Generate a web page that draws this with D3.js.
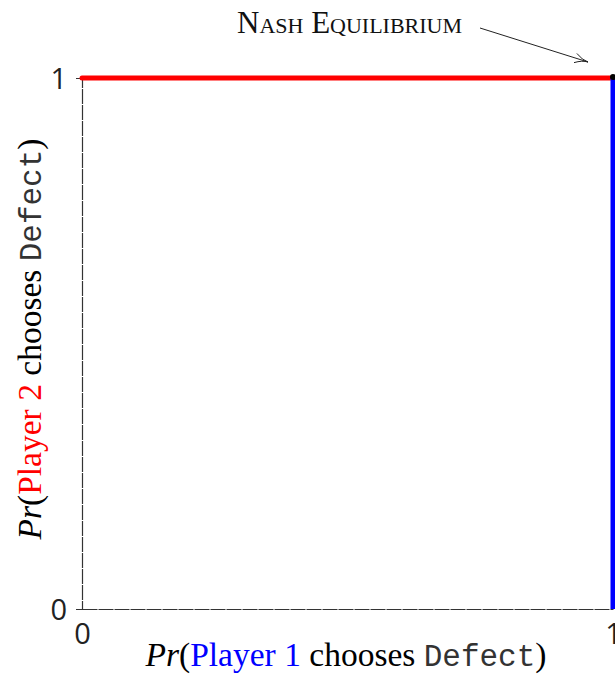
<!DOCTYPE html>
<html><head><meta charset="utf-8">
<script src="https://cdn.jsdelivr.net/npm/d3@7"></script>
<style>body{margin:0;background:#fff}</style>
</head><body>
<svg id="c" width="615" height="675"></svg>
<script>
const xTicks = [0, 1];
const yTicks = [0, 1];
const p2Best = [{x:0,y:1},{x:1,y:1}];   // red: Player 2 best response
const p1Best = [{x:1,y:0},{x:1,y:1}];   // blue: Player 1 best response
const nash = [{x:1,y:1}];
const annotation = "Nash Equilibrium";

const svg = d3.select("#c");
const x = d3.scaleLinear().domain([0,1]).range([82,613]);
const y = d3.scaleLinear().domain([0,1]).range([609,78]);

const serif = "'Liberation Serif', 'DejaVu Serif', serif";
const mono = "'Liberation Mono', 'DejaVu Sans Mono', monospace";
const sans = "'Open Sans', 'DejaVu Sans', sans-serif";

// axes
const gx = svg.append("g").attr("transform",`translate(0,${y(0)})`)
  .call(d3.axisBottom(x).tickValues(xTicks).tickSize(0).tickPadding(14).tickFormat(d3.format("d")));
const gy = svg.append("g").attr("transform",`translate(${x(0)},0)`)
  .call(d3.axisLeft(y).tickValues(yTicks).tickSize(6).tickPadding(9).tickFormat(d3.format("d")));
[gx,gy].forEach(g=>{
  g.select(".domain").attr("stroke","#333").attr("stroke-width",1.2).attr("stroke-dasharray","15,1");
  g.selectAll("text").attr("font-family",sans).attr("font-size",29).attr("fill","#222");
});
gy.selectAll(".tick line").attr("stroke","#333");
gx.selectAll(".tick text").attr("dy","0.72em");
gy.selectAll(".tick text").attr("dy","0.36em");

const line = d3.line().x(d=>x(d.x)).y(d=>y(d.y));
svg.append("path").datum(p2Best).attr("d",line).attr("fill","none")
  .attr("stroke","#ff0000").attr("stroke-width",5).attr("stroke-linecap","round");
svg.append("path").datum(p1Best).attr("d",line).attr("fill","none")
  .attr("stroke","#0000ff").attr("stroke-width",5);
svg.selectAll(".ne").data(nash).enter().append("circle")
  .attr("cx",d=>x(d.x)).attr("cy",d=>y(d.y)-1).attr("r",3).attr("fill","#000");

function label(sel, color, who){
  sel.append("tspan").attr("font-style","italic").text("Pr");
  sel.append("tspan").text("(");
  sel.append("tspan").attr("fill",color).text(who);
  sel.append("tspan").text(" chooses ");
  sel.append("tspan").attr("font-family",mono).attr("font-size",31).attr("fill","#333").text("Defect");
  sel.append("tspan").text(")");
}
// x label
const xl = svg.append("text").attr("x",346).attr("y",666).attr("text-anchor","middle")
  .attr("font-family",serif).attr("font-size",33.5).attr("fill","#000");
label(xl, "#0000ff", "Player 1");

// y label
const yl = svg.append("text").attr("transform","translate(41,339) rotate(-90)").attr("text-anchor","middle")
  .attr("font-family",serif).attr("font-size",33.5).attr("fill","#000");
label(yl, "#ff0000", "Player 2");

// annotation
svg.append("text").attr("x",237).attr("y",33).attr("font-family",serif)
  .attr("font-size",31).attr("font-variant","small-caps").attr("fill","#111").text(annotation);
const ax0 = 480, ay0 = 28;
const ax1 = x(1)-25, ay1 = y(1)-16;
svg.append("line").attr("x1",ax0).attr("y1",ay0).attr("x2",ax1).attr("y2",ay1)
  .attr("stroke","#222").attr("stroke-width",1);
const ang = Math.atan2(ay1-ay0, ax1-ax0);
const hl = 14, ha = 0.35;
svg.append("path").attr("d",`M${ax1-hl*Math.cos(ang-ha)},${ay1-hl*Math.sin(ang-ha)} Q${ax1-6*Math.cos(ang)},${ay1-6*Math.sin(ang)} ${ax1},${ay1} Q${ax1-6*Math.cos(ang)},${ay1-6*Math.sin(ang)} ${ax1-hl*Math.cos(ang+ha)},${ay1-hl*Math.sin(ang+ha)}`)
  .attr("fill","none").attr("stroke","#222").attr("stroke-width",1);
</script>
</body></html>
